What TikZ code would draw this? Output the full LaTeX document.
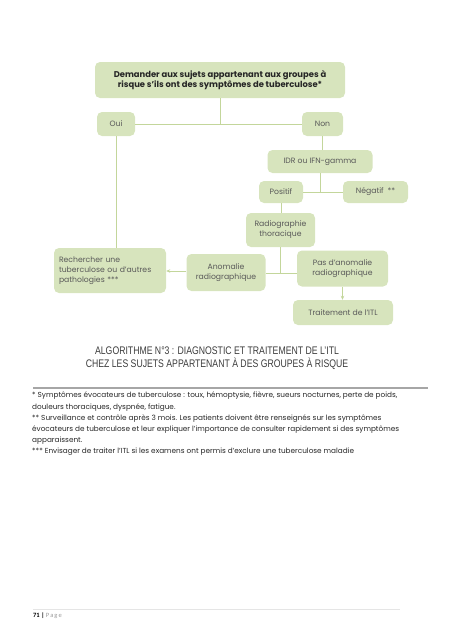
\documentclass[tikz,border=0pt]{standalone}
\usepackage{fontspec}
\setmainfont{Poppins}
\newfontfamily\titlefont[FakeStretch=0.79]{Liberation Sans}
\newfontfamily\pagefont{Carlito}
\usetikzlibrary{arrows.meta,positioning,calc}
\definecolor{itlFill}{HTML}{D7E4BD}
\definecolor{itlLine}{HTML}{C3D69B}
\definecolor{itlText}{HTML}{595959}
\definecolor{itlDark}{HTML}{262626}
\definecolor{itlRule}{HTML}{A6A6A6}

\begin{document}
\begin{tikzpicture}[x=1pt,y=-1pt,
   box/.style={fill=itlFill,draw=none,rounded corners=5pt,inner sep=2pt,
               align=center,text=itlText,font=\fontsize{7.7}{10}\selectfont},
   link/.style={draw=itlLine,line width=0.9pt},
   arr/.style={link,-{Stealth[length=4pt,width=3.5pt]}}]
  \useasboundingbox (0,0) rectangle (452,640);
  \node[box,minimum width=250pt,minimum height=36pt,text=itlDark,
        font=\bfseries\fontsize{8.4}{10.5}\selectfont] (ask) at (220,80)
    {Demander aux sujets appartenant aux groupes à\\risque s’ils ont des symptômes de tuberculose*};
  \node[box,minimum width=38pt,minimum height=24pt] (oui) at (116,124) {Oui};
  \node[box,minimum width=41pt,minimum height=24pt] (non) at (322.5,124) {Non};
  \node[box,minimum width=105pt,minimum height=23pt] (idr) at (320,161.5) {IDR ou IFN-gamma};
  \node[box,minimum width=44pt,minimum height=22pt] (pos) at (281,192) {Positif};
  \node[box,minimum width=65pt,minimum height=22pt] (neg) at (375.5,192) {Négatif\enspace**};
  \node[box,minimum width=69pt,minimum height=34pt] (radio) at (280.5,230) {Radiographie\\thoracique};
  \node[box,minimum width=112pt,minimum height=45pt,align=left,text width=102pt] (rech) at (110,270.5)
    {Rechercher une\\tuberculose ou d’autres\\pathologies ***};
  \node[box,minimum width=79pt,minimum height=37pt] (anom) at (226,272.5) {Anomalie\\radiographique};
  \node[box,minimum width=91pt,minimum height=36pt] (pas) at (342.5,268.5) {Pas d’anomalie\\radiographique};
  \node[box,minimum width=100pt,minimum height=25pt] (trait) at (343,312.5) {Traitement de l’ITL};

  \coordinate (askfoot) at (ask.south |- oui.east);
  \draw[link] (ask.south) -- (askfoot);
  \draw[link] (oui.east) -- (non.west);
  \draw[link] (oui.south) -- (oui.south |- rech.north);
  \draw[link] (non.south) -- (non.south |- idr.north);
  \coordinate (idrfoot) at (idr.south |- pos.east);
  \draw[link] (idr.south) -- (idrfoot);
  \draw[link] (pos.east) -- (neg.west);
  \draw[link] (pos.south) -- (pos.south |- radio.north);
  \coordinate (radiofoot) at ($(radio.south)+(0,26)$);
  \draw[link] (radio.south) -- (radiofoot);
  \draw[link] (anom.east |- radiofoot) -- (pas.west |- radiofoot);
  \draw[arr] ($(anom.west)+(0,-1.5)$) -- ($(anom.west -| rech.east)+(0,-1.5)$);
  \draw[arr] (pas.south) -- (pas.south |- trait.north);

  \node[align=center,text=itlDark!90,font=\titlefont\fontsize{11}{12.5}\selectfont] (title) at (217,358)
    {ALGORITHME N°3 : DIAGNOSTIC ET TRAITEMENT DE L’ITL\\CHEZ LES SUJETS APPARTENANT À DES GROUPES À RISQUE};
  \coordinate (ruleL) at (33,388);
  \coordinate (ruleR) at (428,388);
  \draw[itlRule,line width=1.4pt] (ruleL) -- (ruleR);
  \node[anchor=north west,inner sep=0pt,align=left,text=itlDark,
        font=\fontsize{7.3}{11.2}\selectfont] (notes) at (32,392)
    {* Symptômes évocateurs de tuberculose : toux, hémoptysie, fièvre, sueurs nocturnes, perte de poids,\\
     douleurs thoraciques, dyspnée, fatigue.\\
     ** Surveillance et contrôle après 3 mois. Les patients doivent être renseignés sur les symptômes\\
     évocateurs de tuberculose et leur expliquer l’importance de consulter rapidement si des symptômes\\
     apparaissent.\\
     *** Envisager de traiter l’ITL si les examens ont permis d’exclure une tuberculose maladie};

  \draw[black!10,line width=0.5pt] (33,609) -- (400,609);
  \node[anchor=west,inner sep=0pt,font=\pagefont\fontsize{6.5}{7}\selectfont] (page) at (33,616)
    {\textbf{71 |} \textcolor{black!40}{P\,a\,g\,e}};
\end{tikzpicture}
\end{document}
